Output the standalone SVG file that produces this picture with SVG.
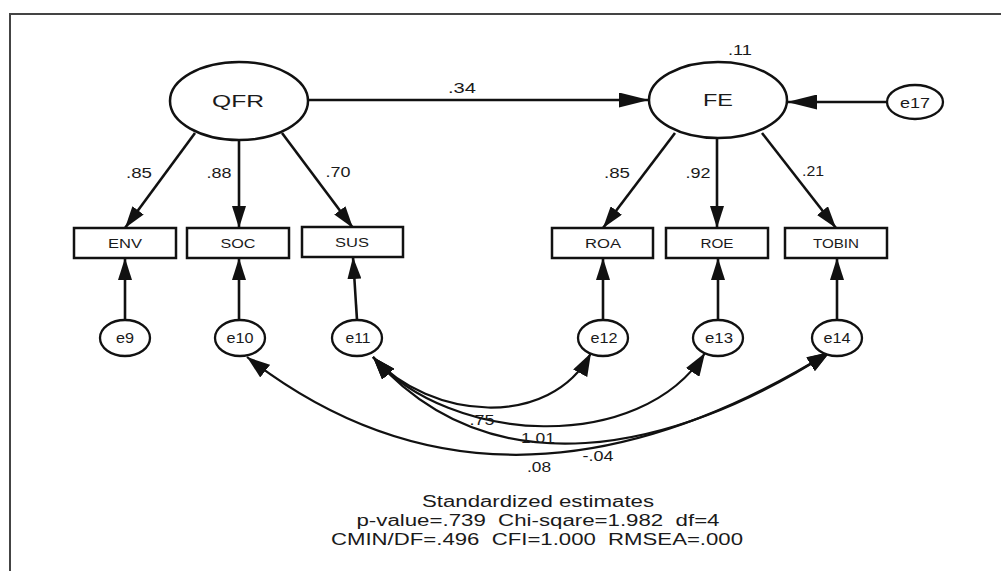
<svg xmlns="http://www.w3.org/2000/svg" width="1001" height="571" viewBox="0 0 1001 571">
  <defs>
    <style>
      text { font-family: "Liberation Sans", Arial, sans-serif; fill: #1a1a1a; text-anchor: middle; }
      .latent { fill: #fff; stroke: #111; stroke-width: 2.5; }
      .obs { fill: #fff; stroke: #111; stroke-width: 2.5; }
      .err { fill: #fff; stroke: #111; stroke-width: 2.3; }
      .path { fill: none; stroke: #111; stroke-width: 2.6; }
      .cov { fill: none; stroke: #111; stroke-width: 2.2; }
      .lv { font-size: 17px; }
      .ov { font-size: 12px; }
      .ev { font-size: 14px; }
      .est { font-size: 14px; }
      .fit { font-size: 16px; }
    </style>
    <!-- arrowheads; the horizontal ones are longer, as in the printed AMOS output -->
    <marker id="arr" viewBox="0 0 22 14" refX="22" refY="7" markerWidth="22" markerHeight="14" markerUnits="userSpaceOnUse" orient="auto">
      <path d="M0,0 L22,7 L0,14 z" fill="#111"/>
    </marker>
    <marker id="arrH" viewBox="0 0 30 15" refX="30" refY="7.5" markerWidth="30" markerHeight="15" markerUnits="userSpaceOnUse" orient="auto">
      <path d="M0,0 L30,7.5 L0,15 z" fill="#111"/>
    </marker>
    <marker id="arrC" viewBox="0 0 23 16" refX="23" refY="8" markerWidth="23" markerHeight="16" markerUnits="userSpaceOnUse" orient="auto-start-reverse">
      <path d="M0,0 L23,8 L0,16 z" fill="#111"/>
    </marker>
  </defs>

  <rect width="1001" height="571" fill="#fff"/>
  <!-- frame -->
  <path d="M10,571 L10,14 L1001,14" fill="none" stroke="#444" stroke-width="2"/>

  <!-- connectors -->
  <g id="connectors">
    <!-- structural path -->
    <path class="path" d="M308,100 L649,100" marker-end="url(#arrH)"/>
    <path class="path" d="M887,102 L787,102" marker-end="url(#arrH)"/>
    <!-- loadings -->
    <path class="path" d="M195,133 L125,228" marker-end="url(#arr)"/>
    <path class="path" d="M239,140 L239,228" marker-end="url(#arr)"/>
    <path class="path" d="M282,133 L353,228" marker-end="url(#arr)"/>
    <path class="path" d="M675,133 L603,228" marker-end="url(#arr)"/>
    <path class="path" d="M717,138 L717,228" marker-end="url(#arr)"/>
    <path class="path" d="M762,133 L836,228" marker-end="url(#arr)"/>
    <!-- error terms -->
    <path class="path" d="M125,320 L125,258" marker-end="url(#arr)"/>
    <path class="path" d="M239,320 L239,258" marker-end="url(#arr)"/>
    <path class="path" d="M357,320 L353,257" marker-end="url(#arr)"/>
    <path class="path" d="M603,320 L603,258" marker-end="url(#arr)"/>
    <path class="path" d="M718,320 L718,258" marker-end="url(#arr)"/>
    <path class="path" d="M837,320 L837,258" marker-end="url(#arr)"/>
    <!-- error covariances -->
    <path class="cov" d="M247,357 Q501,555 830,352" marker-start="url(#arrC)" marker-end="url(#arrC)"/>
    <path class="cov" d="M373,357 C430,420 550,430 591,353" marker-start="url(#arrC)" marker-end="url(#arrC)"/>
    <path class="cov" d="M373,357 C450,445 640,455 705,353" marker-start="url(#arrC)" marker-end="url(#arrC)"/>
    <path class="cov" d="M373,357 C490,490 670,455 830,352" marker-start="url(#arrC)" marker-end="url(#arrC)"/>
  </g>

  <!-- estimates -->
  <g id="estimates">
    <text class="est" x="462" y="93" textLength="28" lengthAdjust="spacingAndGlyphs">.34</text>
    <text class="est" x="740" y="55" textLength="24" lengthAdjust="spacingAndGlyphs">.11</text>
    <text class="est" x="139" y="178" textLength="26" lengthAdjust="spacingAndGlyphs">.85</text>
    <text class="est" x="219" y="178" textLength="25" lengthAdjust="spacingAndGlyphs">.88</text>
    <text class="est" x="338" y="177" textLength="25" lengthAdjust="spacingAndGlyphs">.70</text>
    <text class="est" x="617" y="178" textLength="26" lengthAdjust="spacingAndGlyphs">.85</text>
    <text class="est" x="698" y="178" textLength="25" lengthAdjust="spacingAndGlyphs">.92</text>
    <text class="est" x="813" y="176" textLength="22" lengthAdjust="spacingAndGlyphs">.21</text>
    <text class="est" x="482" y="425" textLength="25" lengthAdjust="spacingAndGlyphs">.75</text>
    <text class="est" x="538" y="443" textLength="34" lengthAdjust="spacingAndGlyphs">1.01</text>
    <text class="est" x="598" y="461" textLength="31" lengthAdjust="spacingAndGlyphs">-.04</text>
    <text class="est" x="539" y="472" textLength="24" lengthAdjust="spacingAndGlyphs">.08</text>
  </g>

  <!-- latent variables -->
  <g id="QFR">
    <ellipse class="latent" cx="239" cy="101" rx="69" ry="39"/>
    <text class="lv" x="238" y="107" textLength="52" lengthAdjust="spacingAndGlyphs">QFR</text>
  </g>
  <g id="FE">
    <ellipse class="latent" cx="718" cy="100" rx="69" ry="38"/>
    <text class="lv" x="718" y="106" textLength="30" lengthAdjust="spacingAndGlyphs">FE</text>
  </g>
  <g id="e17">
    <ellipse class="err" cx="915" cy="102" rx="28" ry="17"/>
    <text class="ev" x="915" y="108" textLength="30" lengthAdjust="spacingAndGlyphs">e17</text>
  </g>

  <!-- observed indicators -->
  <g id="ENV">
    <rect class="obs" x="74" y="228" width="102" height="30"/>
    <text class="ov" x="125" y="248" textLength="34" lengthAdjust="spacingAndGlyphs">ENV</text>
  </g>
  <g id="SOC">
    <rect class="obs" x="187" y="228" width="102" height="30"/>
    <text class="ov" x="238" y="248" textLength="35" lengthAdjust="spacingAndGlyphs">SOC</text>
  </g>
  <g id="SUS">
    <rect class="obs" x="302" y="227" width="101" height="30"/>
    <text class="ov" x="352" y="247" textLength="34" lengthAdjust="spacingAndGlyphs">SUS</text>
  </g>
  <g id="ROA">
    <rect class="obs" x="552" y="228" width="101" height="30"/>
    <text class="ov" x="603" y="248" textLength="36" lengthAdjust="spacingAndGlyphs">ROA</text>
  </g>
  <g id="ROE">
    <rect class="obs" x="666" y="228" width="102" height="30"/>
    <text class="ov" x="717" y="248" textLength="33" lengthAdjust="spacingAndGlyphs">ROE</text>
  </g>
  <g id="TOBIN">
    <rect class="obs" x="785" y="228" width="102" height="30"/>
    <text class="ov" x="836" y="248" textLength="46" lengthAdjust="spacingAndGlyphs">TOBIN</text>
  </g>

  <!-- measurement errors -->
  <g id="e9">
    <ellipse class="err" cx="125" cy="338" rx="25" ry="18"/>
    <text class="ev" x="125" y="343" textLength="18" lengthAdjust="spacingAndGlyphs">e9</text>
  </g>
  <g id="e10">
    <ellipse class="err" cx="240" cy="338" rx="25" ry="18"/>
    <text class="ev" x="240" y="343" textLength="27" lengthAdjust="spacingAndGlyphs">e10</text>
  </g>
  <g id="e11">
    <ellipse class="err" cx="357" cy="338" rx="25" ry="18"/>
    <text class="ev" x="358" y="343" textLength="25" lengthAdjust="spacingAndGlyphs">e11</text>
  </g>
  <g id="e12">
    <ellipse class="err" cx="603" cy="338" rx="25" ry="18"/>
    <text class="ev" x="604" y="343" textLength="27" lengthAdjust="spacingAndGlyphs">e12</text>
  </g>
  <g id="e13">
    <ellipse class="err" cx="718" cy="338" rx="25" ry="18"/>
    <text class="ev" x="719" y="343" textLength="28" lengthAdjust="spacingAndGlyphs">e13</text>
  </g>
  <g id="e14">
    <ellipse class="err" cx="837" cy="338" rx="25" ry="18"/>
    <text class="ev" x="837" y="343" textLength="27" lengthAdjust="spacingAndGlyphs">e14</text>
  </g>

  <!-- fit summary -->
  <g id="fit">
    <text class="fit" x="538" y="507" textLength="232" lengthAdjust="spacingAndGlyphs">Standardized estimates</text>
    <text class="fit" x="538" y="526" textLength="363" lengthAdjust="spacingAndGlyphs" xml:space="preserve">p-value=.739  Chi-sqare=1.982  df=4</text>
    <text class="fit" x="537" y="545" textLength="412" lengthAdjust="spacingAndGlyphs" xml:space="preserve">CMIN/DF=.496  CFI=1.000  RMSEA=.000</text>
  </g>
</svg>
